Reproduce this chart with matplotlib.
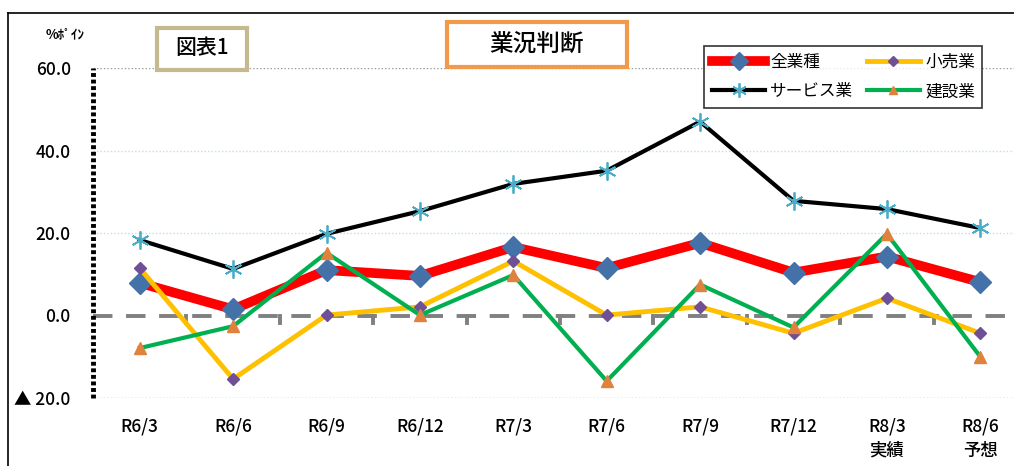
import matplotlib
matplotlib.use("Agg")
import matplotlib.pyplot as plt
from matplotlib.patches import Rectangle
from matplotlib.lines import Line2D

plt.rcParams['font.family'] = ['Noto Sans CJK JP', 'DejaVu Sans']

categories = ["R6/3", "R6/6", "R6/9", "R6/12", "R7/3", "R7/6", "R7/9", "R7/12", "R8/3\n実績", "R8/6\n予想"]
all_ind = [7.9, 1.5, 11.0, 9.6, 16.6, 11.5, 17.6, 10.4, 14.3, 8.1]
retail = [11.5, -15.4, 0.1, 2.1, 13.2, 0.1, 2.1, -4.3, 4.2, -4.3]
services = [18.3, 11.3, 19.8, 25.3, 31.9, 35.1, 47.0, 27.8, 25.8, 21.2]
construction = [-7.9, -2.6, 15.2, 0.1, 9.8, -15.9, 7.5, -2.9, 19.8, -10.0]
series_names = ["全業種", "小売業", "サービス業", "建設業"]
yticks = [-20, 0, 20, 40, 60]
ytick_labels = ["▲ 20.0", "0.0", "20.0", "40.0", "60.0"]

W, H = 1014, 466
fig = plt.figure(figsize=(W / 100, H / 100), dpi=100)

def fx(px):
    return px / W

def fy(py):
    return 1 - py / H

# outer frame (top and left edges visible)
fig.add_artist(Line2D([fx(8), 1], [fy(13), fy(13)], color='black', lw=1.2))
fig.add_artist(Line2D([fx(8), fx(8)], [0, fy(13)], color='black', lw=1.2))

ax = fig.add_axes([fx(93), fy(398), fx(1014 - 93), (398 - 68) / H])
x = list(range(len(categories)))

h0, = ax.plot(x, all_ind, color='#ff0000', lw=7, marker='D', ms=11, mfc='#4472a8', mec='#4472a8',
              label=series_names[0], zorder=3)
h1, = ax.plot(x, retail, color='#ffc000', lw=3.5, marker='D', ms=6, mfc='#6f4f96', mec='#6f4f96',
              label=series_names[1], zorder=4)
h2, = ax.plot(x, services, color='black', lw=3, marker=(6, 2, 0), ms=13, mec='#4bacc6', mew=1.3,
              label=series_names[2], zorder=5)
h3, = ax.plot(x, construction, color='#00b050', lw=3, marker='^', ms=8, mfc='#e0823e', mec='#e0823e',
              label=series_names[3], zorder=6)

ax.set_xlim(-0.5, -0.5 + (1014 - 93) / 93.4)
ax.set_ylim(-20, 60)
ax.set_yticks(yticks)
ax.set_yticklabels(ytick_labels, fontsize=12.5, fontweight='medium')
ax.set_xticks(x)
ax.set_xticklabels(categories, fontsize=12.5, fontweight='medium', linespacing=1.45, va='top')
ax.tick_params(axis='both', length=0)
ax.tick_params(axis='y', pad=16)
ax.tick_params(axis='x', pad=14)

for s in ['top', 'right', 'bottom', 'left']:
    ax.spines[s].set_visible(False)
# dotted left axis line
ax.plot([-0.5, -0.5], [-20, 60], color='black', lw=3.5, ls=(0, (0.8, 0.55)),
        solid_capstyle='butt', dash_capstyle='butt', zorder=2, clip_on=False)

for v in [60, -20]:
    ax.axhline(v, color='#999999', lw=1, ls=(0, (1, 1.5)), zorder=1)
for v in [20, 40]:
    ax.axhline(v, color='#bfe0ea', lw=1, ls=(0, (1, 1.5)), zorder=1)
ax.axhline(0, color='#808080', lw=2.8, ls=(0, (5, 3.5)), zorder=1)
for b in range(1, 10):
    ax.plot([b - 0.5, b - 0.5], [0, -1.8], color='#808080', lw=2.8, zorder=1)

# unit label
fig.text(fx(46), fy(34), "%ﾎﾟｲﾝ", fontsize=9.5, fontweight='bold', va='center', ha='left')

# boxes
fig.patches.append(Rectangle((fx(157), fy(70)), fx(90), (70 - 28) / H, transform=fig.transFigure,
                             fill=True, facecolor='white', edgecolor='#c4b98f', lw=3, zorder=10))
fig.text(fx(202), fy(48), "図表1", fontsize=15, fontweight='medium', ha='center', va='center', zorder=11)
fig.patches.append(Rectangle((fx(447), fy(67)), fx(180), (67 - 22) / H, transform=fig.transFigure,
                             fill=True, facecolor='white', edgecolor='#f09a4a', lw=3, zorder=10))
fig.text(fx(537), fy(45), "業況判断", fontsize=17, fontweight='medium', ha='center', va='center', zorder=11)

leg = ax.legend([h0, h2, h1, h3], [series_names[0], series_names[2], series_names[1], series_names[3]],
                loc='upper left', bbox_to_anchor=(fx(696), fy(38)), bbox_transform=fig.transFigure,
                ncol=2, fontsize=12, frameon=True, fancybox=False, edgecolor='black',
                handlelength=3.2, columnspacing=0.8, handletextpad=0.3, borderpad=0.45,
                labelspacing=0.75, markerscale=0.8)
leg.get_frame().set_linewidth(1.2)
leg.set_zorder(12)

fig.savefig("out.png", dpi=100)
